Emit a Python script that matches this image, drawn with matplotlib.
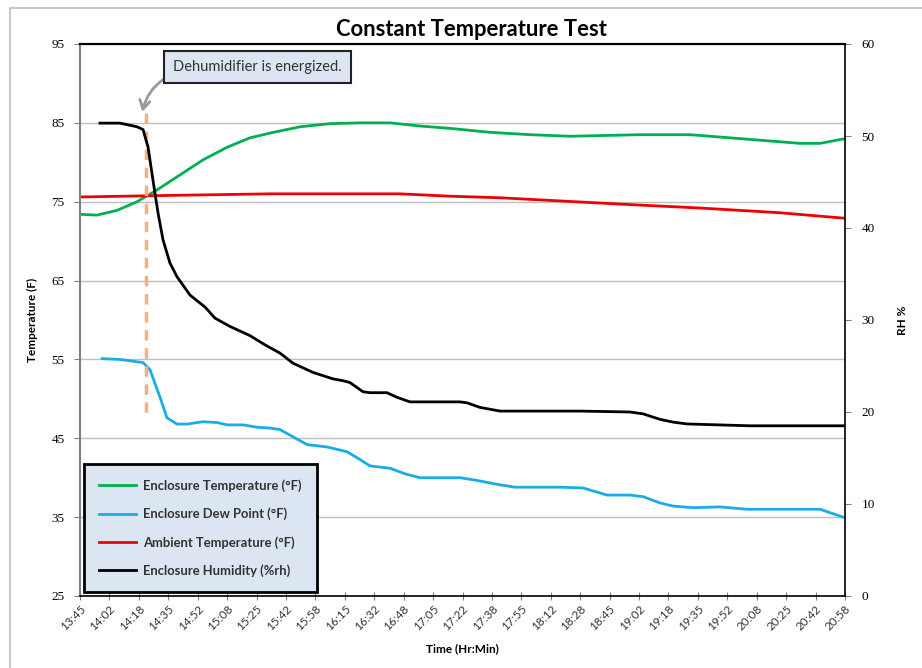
import matplotlib
matplotlib.use("Agg")
import matplotlib.pyplot as plt
import numpy as np
from matplotlib.patches import Rectangle

# time axis: elapsed minutes since 13:45
tick_labels = ["13:45", "14:02", "14:18", "14:35", "14:52", "15:08", "15:25", "15:42", "15:58",
               "16:15", "16:32", "16:48", "17:05", "17:22", "17:38", "17:55", "18:12", "18:28",
               "18:45", "19:02", "19:18", "19:35", "19:52", "20:08", "20:25", "20:42", "20:58"]
total_min = 433

# Enclosure temperature (F)
enc_t_min = [0, 9.6, 20.9, 32.3, 43.6, 56.6, 69.6, 83.2, 96.2, 107.5, 124.5, 141.5, 158.5, 175.5,
             192.4, 209.4, 232.1, 254.7, 277.3, 317.0, 345.3, 367.9, 390.6, 407.5, 418.9, 433]
enc_temp = [73.4, 73.3, 73.9, 75.0, 76.5, 78.4, 80.3, 81.9, 83.1, 83.7, 84.5, 84.9, 85.0, 85.0,
            84.6, 84.3, 83.8, 83.5, 83.3, 83.5, 83.5, 83.1, 82.7, 82.4, 82.4, 83.0]

# Enclosure dew point (F)
dew_min = [12.5, 22.6, 35.7, 39.6, 45.3, 49.2, 54.9, 60.6, 69.6, 77.5, 83.2, 92.3, 100.2, 107.5,
           113.2, 128.5, 139.8, 151.1, 158.5, 164.1, 175.5, 183.9, 192.4, 215.1, 223.6, 237.7,
           246.2, 271.7, 284.7, 298.3, 311.3, 318.7, 328.3, 335.7, 347.0, 362.3, 377.5, 418.9, 431.9]
dew_point = [55.1, 55.0, 54.6, 53.7, 50.2, 47.6, 46.8, 46.8, 47.1, 47.0, 46.7, 46.7, 46.4, 46.3,
             46.1, 44.2, 43.9, 43.3, 42.3, 41.5, 41.2, 40.5, 40.0, 40.0, 39.7, 39.1,
             38.8, 38.8, 38.7, 37.8, 37.8, 37.6, 36.8, 36.4, 36.2, 36.3, 36.0, 36.0, 35.0]

# Ambient temperature (F)
amb_min = [0, 50.9, 107.5, 181.1, 209.4, 237.7, 271.7, 305.6, 350.9, 396.2, 433]
amb_temp = [75.6, 75.8, 76.0, 76.0, 75.7, 75.5, 75.1, 74.7, 74.2, 73.6, 72.9]

# Enclosure humidity (%rh)
rh_min = [11.3, 22.6, 32.3, 35.7, 38.5, 41.3, 44.2, 47.0, 50.9, 54.9, 62.3, 70.8, 76.4, 84.9,
          96.2, 104.7, 113.2, 120.6, 131.9, 143.2, 148.9, 152.8, 160.2, 164.1, 173.7, 179.4,
          186.8, 190.7, 215.1, 219.0, 226.4, 237.7, 283.0, 311.3, 318.7, 328.3, 335.7, 343.6,
          379.3, 433]
rh = [51.4, 51.4, 51.0, 50.7, 48.8, 45.2, 41.6, 38.7, 36.2, 34.7, 32.7, 31.4, 30.2, 29.3,
      28.3, 27.3, 26.4, 25.3, 24.3, 23.6, 23.4, 23.2, 22.2, 22.1, 22.1, 21.6,
      21.1, 21.1, 21.1, 21.0, 20.5, 20.1, 20.1, 20.0, 19.8, 19.2, 18.9, 18.7,
      18.5, 18.5]

event_min = 37.4
event_top, event_bottom = 86.2, 47.6

fig = plt.figure(figsize=(9.22, 6.68), dpi=100)
ax = fig.add_axes([80 / 922, 1 - 596 / 668, 765 / 922, 552 / 668])
ax2 = ax.twinx()

# outer chart border
fig.patches.append(Rectangle((10 / 922, -0.1), 1.2, 1.1 - 8 / 668, transform=fig.transFigure,
                             fill=False, edgecolor="#C8C8C8", lw=1.5))

l1, = ax.plot(enc_t_min, enc_temp, color="#00B050", lw=2, label="Enclosure Temperature (\u00b0F)")
l2, = ax.plot(dew_min, dew_point, color="#1AACE8", lw=2, label="Enclosure Dew Point (\u00b0F)")
l3, = ax.plot(amb_min, amb_temp, color="#F00000", lw=2, label="Ambient Temperature (\u00b0F)")
l4, = ax2.plot(rh_min, rh, color="black", lw=2, label="Enclosure Humidity (%rh)")

ax.plot([event_min, event_min], [event_top, event_bottom], color="#F7B07C", lw=2.5,
        dashes=(3, 2.2), zorder=3)

ax.set_xlim(0, total_min)
ax.set_ylim(25, 95)
ax2.set_ylim(0, 60)
ax.set_yticks(range(25, 96, 10))
ax2.set_yticks(range(0, 61, 10))
ax.set_xticks(np.linspace(0, total_min, len(tick_labels)))
ax.set_xticklabels(tick_labels, rotation=45, ha="right", rotation_mode="anchor",
                   fontsize=8.5, family="Lato", color="#333333")

for t in ax.get_yticklabels() + ax2.get_yticklabels():
    t.set_family("Liberation Serif")
    t.set_fontsize(9.5)

ax.grid(axis="y", color="#BEBEBE", lw=1)
ax.set_axisbelow(True)
ax.tick_params(axis="y", direction="out", length=4, color="#808080", pad=7)
ax2.tick_params(axis="y", direction="out", length=4, color="#808080", pad=8)
ax.tick_params(axis="x", direction="inout", length=6, color="#808080", pad=2)

ax.spines["left"].set_color("#808080")
ax.spines["left"].set_linewidth(1.5)
ax.spines["top"].set_linewidth(1.5)
ax.spines["bottom"].set_linewidth(1.2)
ax2.spines["left"].set_visible(False)
ax2.spines["top"].set_linewidth(1.5)
ax2.spines["bottom"].set_visible(False)
ax2.spines["right"].set_linewidth(1.2)
ax.spines["right"].set_visible(False)

fig.text(471 / 922, 1 - 30 / 668, "Constant Temperature Test", fontsize=15.8,
         fontweight="bold", family="Lato", ha="center", va="center")
ax.set_ylabel("Temperature (F)", fontsize=8.5, fontweight="bold", family="Lato", labelpad=10)
ax2.set_ylabel("RH %", fontsize=8.5, fontweight="bold", family="Lato", labelpad=16)
ax.set_xlabel("Time (Hr:Min)", fontsize=8.5, fontweight="bold", family="Lato", labelpad=8)

ax.annotate("Dehumidifier is energized.", xy=(35.3, 86.4), xytext=(100.5, 92.1),
            fontsize=10.5, family="Lato", color="#333333", ha="center", va="center",
            bbox=dict(boxstyle="square,pad=0.6", fc="#DCE6F2", ec="#222222", lw=1.5),
            arrowprops=dict(arrowstyle="->,head_length=0.6,head_width=0.35", color="#9A9A9A",
                            lw=2, relpos=(0, 0), connectionstyle="arc3,rad=0.25",
                            shrinkA=0, shrinkB=0))

leg = ax2.legend(handles=[l1, l2, l3, l4], loc="lower left", bbox_to_anchor=(4 / 765, 4 / 552),
                 borderaxespad=0, frameon=True, fancybox=False, facecolor="#DCE6F2",
                 edgecolor="black", framealpha=1, borderpad=1.15, labelspacing=1.2,
                 handlelength=2.8, handletextpad=0.6,
                 prop=dict(family="Lato", weight="bold", size=9.4))
leg.get_frame().set_linewidth(2)
for t in leg.get_texts():
    t.set_color("#333333")

fig.savefig("out.png", dpi=100)
